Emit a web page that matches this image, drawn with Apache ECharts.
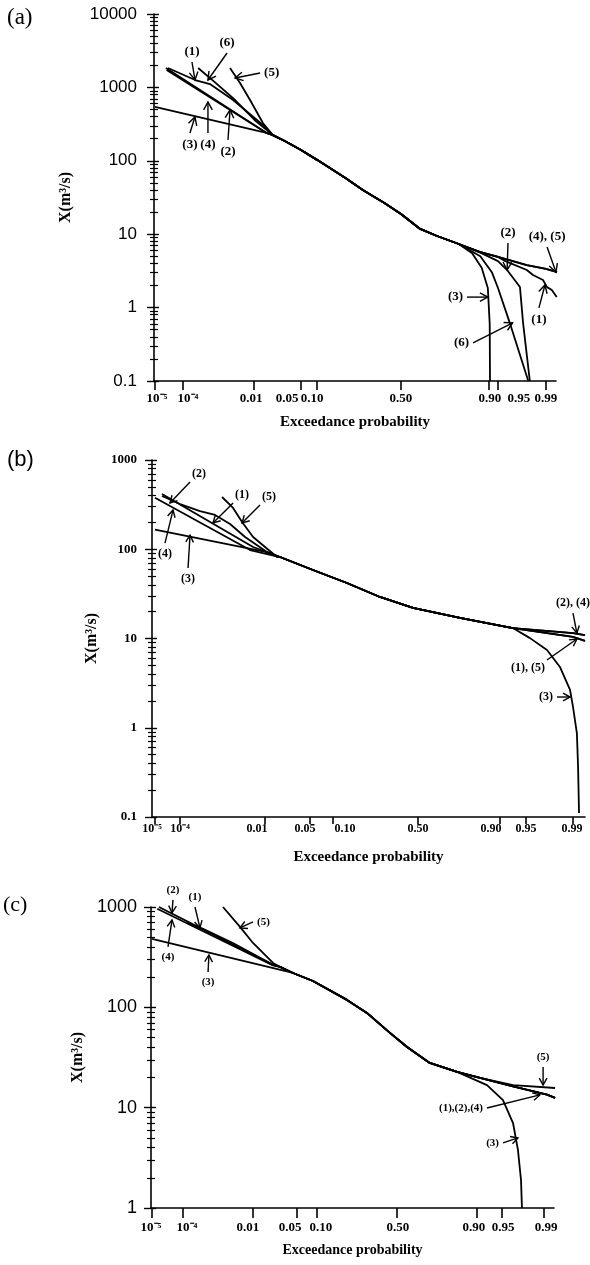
<!DOCTYPE html>
<html><head><meta charset="utf-8">
<script src="https://cdn.jsdelivr.net/npm/echarts@6/dist/echarts.min.js"></script>
<style>html,body{margin:0;padding:0;background:#fff}#chart{width:590px;height:1265px}</style>
</head><body><div id="chart"></div>
<script>
// ---------- axis definitions ----------
const TICK_P = [1e-5, 1e-4, 0.01, 0.05, 0.10, 0.50, 0.90, 0.95, 0.99];
const TICK_LABELS = ['10\u207B\u2075', '10\u207B\u2074', '0.01', '0.05', '0.10', '0.50', '0.90', '0.95', '0.99'];
// probability paper of each panel: where each tick sits, as a fraction of the axis length
const PAPER_A = [0.0025, 0.0721, 0.2488, 0.3657, 0.4055, 0.6144, 0.8333, 0.8557, 0.9751];
const PAPER_B = [0.0069, 0.0647, 0.2610, 0.3649, 0.4180, 0.6143, 0.8037, 0.8637, 0.9723];
const PAPER_C = [0.0025, 0.0794, 0.2531, 0.3623, 0.4119, 0.6104, 0.8089, 0.8710, 0.9752];

// ---------- data: [exceedance probability, X (m3/s)] ----------
// panel (a)
const A_MID = [[0.02,224],[0.03,186],[0.05,140],[0.1,103],[0.2,58],[0.28,40],[0.4,26.6],[0.5,18.8],[0.61,11.8],[0.7,9.45],[0.8,7.35]];
const A1_HEAD = [[3.0e-5,1837],[2.5e-4,1260],[7.1e-4,1110],[3.1e-3,673],[0.014,308]];
const A2_HEAD = [[2.55e-5,1837],[0.016,240]];
const A3_HEAD = [[1e-5,541],[0.016,240]];
const A4_HEAD = [[2.7e-5,1726],[0.016,240]];
const A5_HEAD = [[2.58e-3,1837],[4.65e-3,1150],[8.1e-3,673],[0.014,327]];
const A6_HEAD = [[3.1e-4,1840],[1e-3,1170],[3.5e-3,673],[0.0102,360]];
const A1_TAIL = [[0.876,5.7],[0.95,4.9],[0.96,4.3],[0.98,3.25],[0.9839,2.78],[0.9888,2.38],[0.9904,1.9],[0.992,1.74],[0.9934,1.39]];
const A2_TAIL = [[0.876,5.6],[0.95,4.3],[0.962,3.25],[0.9748,1.91],[0.9773,0.62],[0.982,0.1]];
const A3_TAIL = [[0.85,5.5],[0.88,3.5],[0.897,1.85],[0.905,0.6],[0.907,0.1]];
const A45_TAIL = [[0.876,5.7],[0.95,4.9],[0.98,3.8],[0.99,3.36],[0.9935,3.05]];
const A6_TAIL = [[0.876,5.0],[0.92,3.0],[0.95,1.85],[0.965,0.62],[0.981,0.1]];
// panel (b)
const B_MID = [[0.0179,81.8],[0.055,58.5],[0.142,41.9],[0.283,29.2],[0.47,22],[0.744,17],[0.928,13.1]];
const B1_HEAD = [[1.96e-5,395],[1e-4,321],[3.48e-4,268],[8.3e-4,242],[1.87e-3,192],[3.99e-3,137],[0.0108,93]];
const B2_HEAD = [[1.96e-5,416],[5.84e-3,106]];
const B3_HEAD = [[1e-5,166],[0.0108,93]];
const B4_HEAD = [[1e-5,378],[5.07e-3,98]];
const B5_HEAD = [[1.22e-3,385],[2.19e-3,290],[3.44e-3,202],[5.84e-3,137],[0.016,82]];
const B24_TAIL = [[0.99,11.5],[0.9938,10.9]];
const B15_TAIL = [[0.99,10.4],[0.9938,9.4]];
const B3_TAIL = [[0.9557,10.1],[0.9744,7.43],[0.9837,4.8],[0.9888,2.65],[0.99,1.71],[0.9914,0.873],[0.9918,0.363],[0.9921,0.111]];
// panel (c)
const C_MID = [[0.0282,253],[0.0439,220],[0.0877,183],[0.2115,118.6],[0.315,88],[0.455,55.6],[0.564,40.3],[0.70,27.9],[0.832,22.7]];
const C1_HEAD = [[1.36e-4,694],[4.5e-4,605],[3.2e-3,438],[0.0219,265]];
const C2_HEAD = [[1.72e-5,1000],[0.0219,265]];
const C3_HEAD = [[1e-5,481]];
const C4_HEAD = [[1.5e-5,960],[0.0219,262]];
const C5_HEAD = [[1.73e-3,1000],[4.87e-3,633],[0.01,438],[0.0219,277]];
const C124_TAIL = [[0.9075,19.8],[0.9659,16.3],[0.9912,13.5],[0.9939,12.5]];
const C5_TAIL = [[0.9075,19.8],[0.9659,16.8],[0.9939,15.7]];
const C3_TAIL = [[0.9232,16.8],[0.9516,11.9],[0.9659,7.03],[0.9715,3.79],[0.9746,1.9],[0.9755,1.0]];

// annotations: label, arrow tail, arrow head (data units)
const ANN_A = [
  {t:'(1)', from:[1.98e-4,2218], to:[2.47e-4,1262], at:'top'},
  {t:'(6)', from:[2.15e-3,2944], to:[6.2e-4,1262], at:'top'},
  {t:'(5)', from:[0.0126,1570], to:[3.48e-3,1343], at:'right'},
  {t:'(3)', from:[1.7e-4,239], to:[2.47e-4,395], at:'bottom'},
  {t:'(4)', from:[6.2e-4,239], to:[6.2e-4,632], at:'bottom'},
  {t:'(2)', from:[2.28e-3,192], to:[2.58e-3,492], at:'bottom'},
  {t:'(2)', from:[0.963,7.59], to:[0.962,3.25], at:'top'},
  {t:'(4), (5)', from:[0.9904,6.7], to:[0.9932,3.05], at:'top'},
  {t:'(3)', from:[0.832,1.39], to:[0.897,1.39], at:'left'},
  {t:'(6)', from:[0.853,0.33], to:[0.968,0.62], at:'left'},
  {t:'(1)', from:[0.987,0.99], to:[0.9896,2.03], at:'bottom'}
];
const ANN_B = [
  {t:'(2)', from:[1.89e-4,566], to:[4.1e-5,330], at:'topright'},
  {t:'(1)', from:[2.19e-3,330], to:[7.4e-4,197], at:'topright'},
  {t:'(5)', from:[8.0e-3,313], to:[3.44e-3,197], at:'topright'},
  {t:'(4)', from:[2.6e-5,117], to:[5.4e-5,275], at:'bottom'},
  {t:'(3)', from:[1.67e-4,61.6], to:[1.89e-4,144], at:'bottom'},
  {t:'(2), (4)', from:[0.99,19.3], to:[0.9914,11.5], at:'top'},
  {t:'(1), (5)', from:[0.9744,5.74], to:[0.9914,9.87], at:'bottomleft'},
  {t:'(3)', from:[0.9819,2.21], to:[0.9888,2.21], at:'left'}
];
const ANN_C = [
  {t:'(2)', from:[4.9e-5,1178], to:[4.56e-5,873], at:'top'},
  {t:'(1)', from:[2.5e-4,1000], to:[3.6e-4,619], at:'top'},
  {t:'(5)', from:[0.01,710], to:[4.87e-3,619], at:'right'},
  {t:'(4)', from:[3.4e-5,400], to:[4.56e-5,743], at:'bottom'},
  {t:'(3)', from:[6.4e-4,225], to:[6.8e-4,333], at:'bottom'},
  {t:'(5)', from:[0.9896,25.5], to:[0.9896,16.8], at:'top'},
  {t:'(1),(2),(4)', from:[0.9232,9.93], to:[0.9881,13.4], at:'left'},
  {t:'(3)', from:[0.9516,4.45], to:[0.9715,4.99], at:'left'}
];

// ---------- helpers ----------
function probit(p) {
  const a=[-3.969683028665376e+01,2.209460984245205e+02,-2.759285104469687e+02,1.383577518672690e+02,-3.066479806614716e+01,2.506628277459239e+00];
  const b=[-5.447609879822406e+01,1.615858368580409e+02,-1.556989798598866e+02,6.680131188771972e+01,-1.328068155288572e+01];
  const c=[-7.784894002430293e-03,-3.223964580411365e-01,-2.400758277161838e+00,-2.549732539343734e+00,4.374664141464968e+00,2.938163982698783e+00];
  const d=[7.784695709041462e-03,3.224671290700398e-01,2.445134137142996e+00,3.754408661907416e+00];
  const pl=0.02425, ph=1-pl; let q, r;
  if (p < pl) { q=Math.sqrt(-2*Math.log(p)); return (((((c[0]*q+c[1])*q+c[2])*q+c[3])*q+c[4])*q+c[5])/((((d[0]*q+d[1])*q+d[2])*q+d[3])*q+1); }
  if (p <= ph) { q=p-0.5; r=q*q; return (((((a[0]*r+a[1])*r+a[2])*r+a[3])*r+a[4])*r+a[5])*q/(((((b[0]*r+b[1])*r+b[2])*r+b[3])*r+b[4])*r+1); }
  q=Math.sqrt(-2*Math.log(1-p)); return -(((((c[0]*q+c[1])*q+c[2])*q+c[3])*q+c[4])*q+c[5])/((((d[0]*q+d[1])*q+d[2])*q+d[3])*q+1);
}
const TICK_Z = TICK_P.map(probit);
function paperScale(pos) {
  return function (p) {
    const z = probit(p);
    let i = 0;
    while (i < TICK_Z.length - 2 && z > TICK_Z[i + 1]) i++;
    const t = (z - TICK_Z[i]) / (TICK_Z[i + 1] - TICK_Z[i]);
    return pos[i] + t * (pos[i + 1] - pos[i]);
  };
}
const SERIF = '"Liberation Serif", "Times New Roman", serif';
const SANS = '"Liberation Sans", Arial, sans-serif';

// horizontal offsets (px) of the printed tick labels relative to their ticks, as drawn in the figure
const SHIFT_A = [2, 5, -3, -14, -5, 0, 1, 21, 0];
const SHIFT_B = [-3, 0, -8, -5, 12, 0, -9, 0, -1];
const SHIFT_C = [-3, 4, -5, -7, 4, 1, -3, 1, 2];

const panels = [
  { label:'(a)', labelPos:{left:7, top:6}, labelFont:'23px ' + SERIF,
    grid:{left:154, top:14, width:402, height:367}, paper:PAPER_A, ymin:0.1, ymax:10000,
    curves:[
      A1_HEAD.concat(A_MID, A1_TAIL), A2_HEAD.concat(A_MID, A2_TAIL), A3_HEAD.concat(A_MID, A3_TAIL),
      A4_HEAD.concat(A_MID, A45_TAIL), A5_HEAD.concat(A_MID, A45_TAIL), A6_HEAD.concat(A_MID, A6_TAIL)],
    ann:ANN_A, annFont:'bold 13px ' + SERIF, head:9,
    yFont:{fontFamily:SANS, fontSize:17, fontWeight:'normal'}, yMargin:17, yNameGap:80,
    xSize:13, xMargin:11, xTick:9, shift:SHIFT_A, nameGap:34, nameSize:15 },
  { label:'(b)', labelPos:{left:7, top:449}, labelFont:'22px ' + SANS,
    grid:{left:152, top:460, width:433, height:357}, paper:PAPER_B, ymin:0.1, ymax:1000,
    curves:[
      B1_HEAD.concat(B_MID, B15_TAIL), B2_HEAD.concat(B_MID, B24_TAIL), B3_HEAD.concat(B_MID, B3_TAIL),
      B4_HEAD.concat(B_MID, B24_TAIL), B5_HEAD.concat(B_MID, B15_TAIL)],
    ann:ANN_B, annFont:'bold 12px ' + SERIF, head:8,
    yFont:{fontFamily:SERIF, fontSize:13, fontWeight:'bold'}, yMargin:15, yNameGap:50,
    xSize:12, xMargin:6, xTick:7, shift:SHIFT_B, nameGap:33, nameSize:15 },
  { label:'(c)', labelPos:{left:3, top:894}, labelFont:'22px ' + SERIF,
    grid:{left:151, top:907, width:403, height:301}, paper:PAPER_C, ymin:1, ymax:1000,
    curves:[
      C1_HEAD.concat(C_MID, C124_TAIL), C2_HEAD.concat(C_MID, C124_TAIL), C3_HEAD.concat(C_MID.slice(1), C3_TAIL),
      C4_HEAD.concat(C_MID, C124_TAIL), C5_HEAD.concat(C_MID, C5_TAIL)],
    ann:ANN_C, annFont:'bold 11px ' + SERIF, head:8,
    yFont:{fontFamily:SANS, fontSize:18, fontWeight:'normal'}, yMargin:14, yNameGap:63,
    xSize:13, xMargin:13, xTick:10, shift:SHIFT_C, nameGap:35, nameSize:14 }
];

function makeArrow(anns, font, L) {
  return function (params, api) {
    const a = anns[params.dataIndex];
    const s = api.coord([api.value(0), api.value(1)]);
    const e = api.coord([api.value(2), api.value(3)]);
    const ang = Math.atan2(e[1] - s[1], e[0] - s[0]);
    const w = 0.5;
    const h1 = [e[0] - L * Math.cos(ang - w), e[1] - L * Math.sin(ang - w)];
    const h2 = [e[0] - L * Math.cos(ang + w), e[1] - L * Math.sin(ang + w)];
    const g = 4;
    const pos = {
      top: [s[0], s[1] - g, 'center', 'bottom'],
      bottom: [s[0], s[1] + g + 1, 'center', 'top'],
      left: [s[0] - g, s[1], 'right', 'middle'],
      right: [s[0] + g, s[1], 'left', 'middle'],
      topright: [s[0] + 2, s[1] - 2, 'left', 'bottom'],
      bottomleft: [s[0] - 2, s[1] + 2, 'right', 'top']
    }[a.at];
    return { type:'group', children:[
      { type:'line', shape:{x1:s[0], y1:s[1], x2:e[0], y2:e[1]}, style:{stroke:'#000', lineWidth:1.4} },
      { type:'polyline', shape:{points:[h1, e, h2]}, style:{stroke:'#000', lineWidth:1.4, fill:'none'} },
      { type:'text', x:pos[0], y:pos[1], style:{text:a.t, fill:'#000', font:font, align:pos[2], verticalAlign:pos[3]} }
    ]};
  };
}

const option = { animation:false, backgroundColor:'#fff', grid:[], xAxis:[], yAxis:[], series:[], graphic:[] };

panels.forEach(function (P, gi) {
  const T = paperScale(P.paper);
  const tickVals = TICK_P.map(T);
  const labelVals = tickVals.map(function (t, i) {
    return Math.min(1, Math.max(0, t + P.shift[i] / P.grid.width));
  });
  option.grid.push(P.grid);
  option.graphic.push({ type:'text', left:P.labelPos.left, top:P.labelPos.top, style:{text:P.label, font:P.labelFont, fill:'#000'} });
  option.xAxis.push({
    type:'value', gridIndex:gi, min:0, max:1,
    axisLine:{ lineStyle:{color:'#000', width:1.6} },
    axisTick:{ customValues:tickVals, length:P.xTick, lineStyle:{color:'#000', width:1.6} },
    axisLabel:{ customValues:labelVals, margin:P.xMargin, color:'#000',
      fontFamily:SERIF, fontWeight:'bold', fontSize:P.xSize,
      formatter:function (v) {
        let k = 0, best = 1e9;
        labelVals.forEach(function (t, i) { if (Math.abs(t - v) < best) { best = Math.abs(t - v); k = i; } });
        return TICK_LABELS[k];
      } },
    splitLine:{ show:false },
    name:'Exceedance probability', nameLocation:'middle', nameGap:P.nameGap,
    nameTextStyle:{ fontFamily:SERIF, fontWeight:'bold', fontSize:P.nameSize, color:'#000' }
  });
  const yi = option.yAxis.length;
  option.yAxis.push({
    type:'log', logBase:10, gridIndex:gi, position:'left', min:P.ymin, max:P.ymax,
    axisLine:{ show:true, lineStyle:{color:'#000', width:1.6} },
    axisTick:{ show:true, length:7, lineStyle:{color:'#000', width:1.4} },
    minorTick:{ show:true, splitNumber:9, length:4, lineStyle:{color:'#000', width:1.2} },
    axisLabel:{ margin:P.yMargin, color:'#000', fontFamily:P.yFont.fontFamily, fontSize:P.yFont.fontSize, fontWeight:P.yFont.fontWeight,
      formatter:function (v) { return v >= 1 ? String(Math.round(v)) : String(+v.toPrecision(3)); } },
    splitLine:{ show:false }, minorSplitLine:{ show:false },
    name:'X(m\u00B3/s)', nameLocation:'middle', nameRotate:90, nameGap:P.yNameGap,
    nameTextStyle:{ fontFamily:SERIF, fontWeight:'bold', fontSize:16, color:'#000' }
  });
  option.yAxis.push({
    type:'log', logBase:10, gridIndex:gi, position:'left', min:P.ymin, max:P.ymax,
    axisLine:{ show:false },
    axisTick:{ show:true, inside:true, length:5, lineStyle:{color:'#000', width:1.4} },
    minorTick:{ show:true, splitNumber:9, length:4, lineStyle:{color:'#000', width:1.2} },
    axisLabel:{ show:false }, splitLine:{ show:false }
  });
  P.curves.forEach(function (pts) {
    option.series.push({
      type:'line', xAxisIndex:gi, yAxisIndex:yi, symbol:'none', silent:true,
      lineStyle:{ color:'#000', width:1.8 },
      data: pts.map(function (d) { return [T(d[0]), d[1]]; })
    });
  });
  option.series.push({
    type:'custom', xAxisIndex:gi, yAxisIndex:yi, silent:true, clip:false,
    data: P.ann.map(function (a) { return [T(a.from[0]), a.from[1], T(a.to[0]), a.to[1]]; }),
    renderItem: makeArrow(P.ann, P.annFont, P.head)
  });
});

const chart = echarts.init(document.getElementById('chart'), null, { renderer:'canvas' });
chart.setOption(option);
</script></body></html>
